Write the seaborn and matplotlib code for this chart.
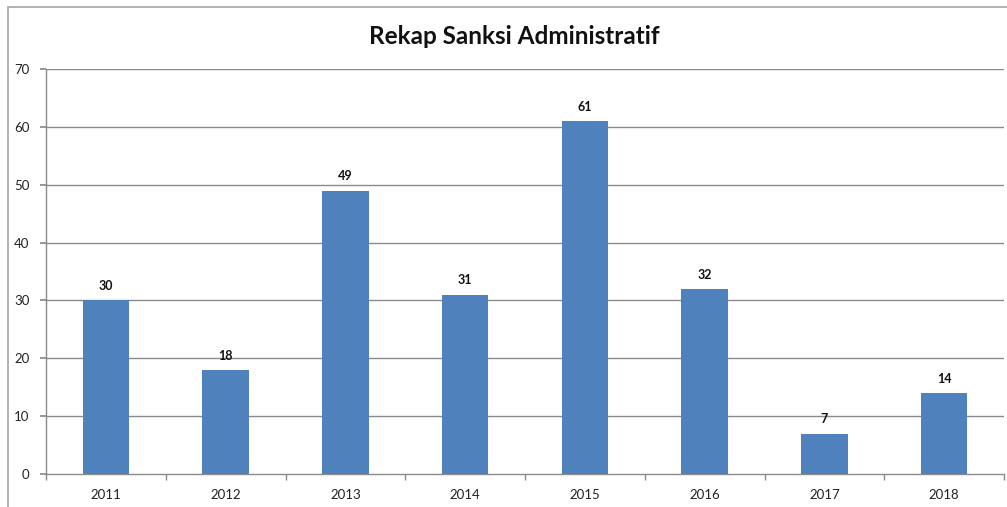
import matplotlib
matplotlib.use("Agg")
import matplotlib.pyplot as plt
import seaborn as sns
import pandas as pd
from matplotlib.patches import Rectangle

years = ["2011", "2012", "2013", "2014", "2015", "2016", "2017", "2018"]
values = [30, 18, 49, 31, 61, 32, 7, 14]
y_ticks = [0, 10, 20, 30, 40, 50, 60, 70]
title = "Rekap Sanksi Administratif"

sns.set_theme(style="white")
plt.rcParams['font.family'] = ['Lato', 'DejaVu Sans']

df = pd.DataFrame({"year": years, "value": values})

W, H = 1007, 507
fig = plt.figure(figsize=(W / 100, H / 100), dpi=100)
fig.patch.set_facecolor("white")

# chart frame
fig.patches.append(Rectangle((8 / W, -0.05), 1.1, (H - 7) / H + 0.05,
                             transform=fig.transFigure, fill=False,
                             edgecolor="#a6a6a6", linewidth=1.2, zorder=0))

ax = fig.add_axes([46 / W, (H - 474) / H, (1004 - 46) / W, (474 - 69) / H])
sns.barplot(data=df, x="year", y="value", color="#4F81BD", width=0.39,
            saturation=1, linewidth=0, edgecolor="none", ax=ax, zorder=3)

ax.set_xlim(-0.5, len(years) - 0.5)
ax.set_ylim(0, 70)
ax.set_yticks(y_ticks)
ax.set_xlabel("")
ax.set_ylabel("")

for yv in y_ticks[1:]:
    ax.axhline(yv, color="#8a8a8a", linewidth=1, zorder=1)

for s in ["top", "right"]:
    ax.spines[s].set_visible(False)
for s in ["left", "bottom"]:
    ax.spines[s].set_color("#8a8a8a")
    ax.spines[s].set_linewidth(1)

ax.tick_params(axis="y", which="major", length=4, color="#8a8a8a", labelsize=9.5,
               labelcolor="#222222", left=True, direction="out", pad=8)
ax.tick_params(axis="x", which="major", length=0, labelsize=9.5, labelcolor="#222222", pad=11)
ax.set_xticks([i + 0.5 for i in range(-1, len(years))], minor=True)
ax.tick_params(axis="x", which="minor", length=4, color="#8a8a8a", bottom=True, direction="out")

for c in ax.containers:
    ax.bar_label(c, labels=[str(v) for v in values], padding=6,
                 fontsize=9, fontweight="bold", color="#111111")

fig.text(514 / W, 1 - 37 / H, title, ha="center", va="center",
         fontsize=17.5, fontweight="bold", color="#111111")

fig.savefig("out.png", dpi=100)
